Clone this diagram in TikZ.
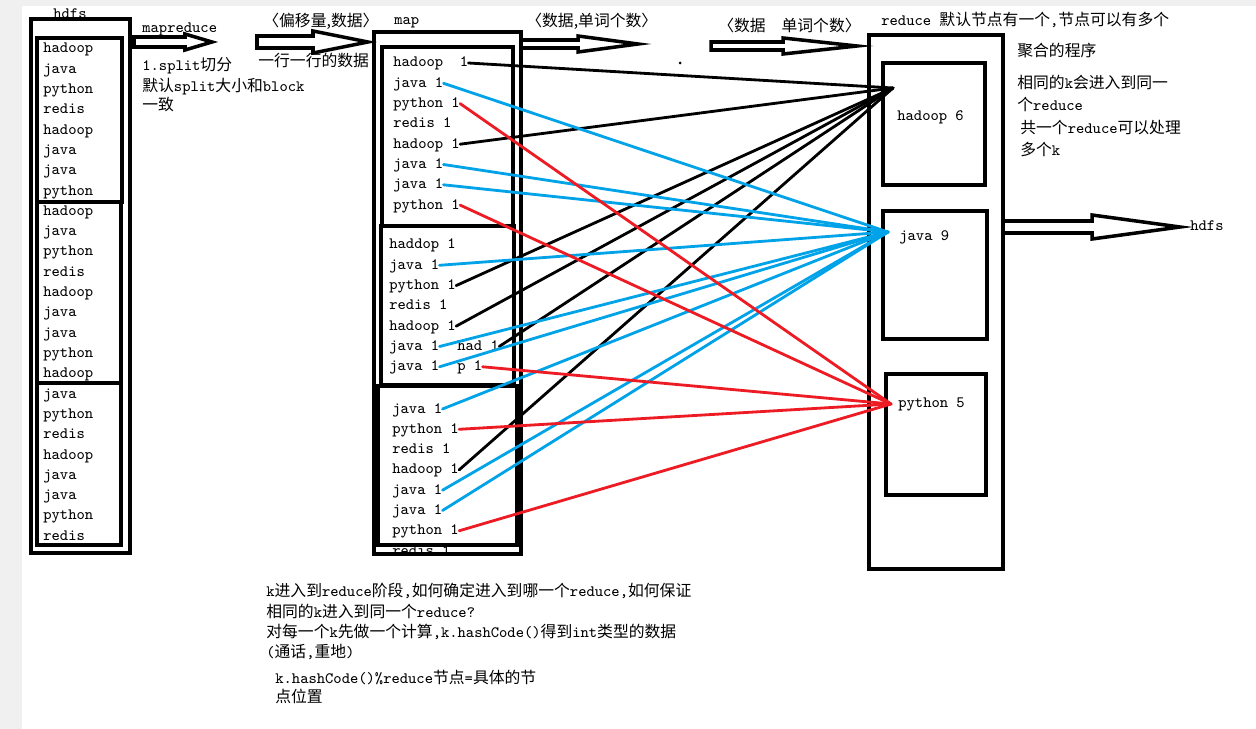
\documentclass[tikz,border=0pt]{standalone}
\usepackage{fontspec}
\newfontfamily\cjk{Noto Sans CJK SC}
\definecolor{paintblue}{RGB}{0,162,232}
\definecolor{paintred}{RGB}{237,28,36}
\definecolor{pagegray}{RGB}{240,240,240}
\newcommand{\fatarrow}[6]{\draw[fatline] (#1,#4-#5) -- (#2,#4-#5) -- (#2,#4-#6) -- (#3,#4) -- (#2,#4+#6) -- (#2,#4+#5) -- (#1,#4+#5) -- cycle;}
\begin{document}
\begin{tikzpicture}[x = 0.02cm, y = -0.02cm, font = \fontsize{9}{11}\selectfont\ttfamily,
    word/.style = {anchor = west, inner sep = 0pt, text height = 0.22cm, text depth = 0.06cm},
    box/.style = {line width = 2.2pt},
    fatline/.style = {line width = 2pt, line join = miter},
    hline/.style = {line width = 1.6pt, line cap = round},
    jline/.style = {hline, paintblue},
    pline/.style = {hline, paintred}]
        \fill[pagegray] (0, 0) rectangle (1256, 729);
        \fill[white] (22, 6) rectangle (1256, 729);
        \useasboundingbox (0, 0) rectangle (1256, 729);
        \node[word](hdfslabel) at (53, 15){hdfs};
        \foreach \w [count = \i from 0] in {hadoop, java, python, redis, hadoop, java, java, python, hadoop, java, python, redis, hadoop, java, java, python, hadoop, java, python, redis, hadoop, java, java, python, redis}
            \node[word](d\i) at (43, 49 + 20.3 * \i){\w};
        \draw[box] (31, 19) rectangle (130, 553);
        \draw[box] (37, 38) rectangle (122, 202);
        \draw[box] (37, 202) rectangle (121, 383);
        \draw[box] (37, 383) rectangle (121, 545);
        \fatarrow{134}{185}{212}{42}{5}{8}
        \node[word](mrlabel) at (142, 29){mapreduce};
        \node[word](split1) at (142, 67){1.split{\cjk 切分}};
        \node[word](split2) at (142, 88){{\cjk 默认}split{\cjk 大小和}block};
        \node[word](split3) at (142, 107){\cjk 一致};
        \fatarrow{257}{313}{368}{42}{6}{11}
        \node[word](offset) at (263, 23){\cjk 〈偏移量,数据〉};
        \node[word](lines) at (258, 63){\cjk 一行一行的数据};
        \node[word](maplabel) at (394, 21){map};
        \foreach \w [count = \i] in {hadoop\ \ 1, java 1, python 1, redis 1, hadoop 1, java 1, java 1, python 1}
            \node[word](a\i) at (393, 42.7 + 20.3 * \i){\w};
        \foreach \w [count = \i] in {haddop 1, java 1, python 1, redis 1, hadoop 1, java 1, java 1}
            \node[word](b\i) at (389, 224.7 + 20.3 * \i){\w};
        \node[word](had) at (457, 346.5){had 1};
        \node[word](pone) at (457, 366.8){p 1};
        \foreach \w [count = \i] in {java 1, python 1, redis 1, hadoop 1, java 1, java 1, python 1, redis 1}
            \node[word](c\i) at (392, 388.7 + 20.3 * \i){\w};
        \draw[box] (374, 32) rectangle (521, 554);
        \draw[box] (382, 47) rectangle (513, 226);
        \draw[box] (381, 226) rectangle (514, 385);
        \draw[box] (378, 386) rectangle (517, 545);
        \fatarrow{521}{578}{638}{44}{4}{8}
        \node[word](kv1) at (526, 23){\cjk 〈数据,单词个数〉};
        \fatarrow{711}{783}{857}{46}{4}{8}
        \node[word](kv2) at (718, 28){\cjk 〈数据\quad 单词个数〉};
        \fill (680, 63) circle(1.5);
        \node[word](redlabel) at (881, 22){reduce {\cjk 默认节点有一个},{\cjk 节点可以有多个}};
        \draw[box] (869, 35) rectangle (1003, 569);
        \draw[box] (883, 63) rectangle (985, 185);
        \draw[box] (883, 211) rectangle (987, 339);
        \draw[box] (886, 374) rectangle (986, 495);
        \node[word](rhad) at (897, 117){hadoop 6};
        \node[word](rjava) at (899, 237){java 9};
        \node[word](rpy) at (898, 403){python 5};
        \coordinate(thad) at (893, 88);
        \coordinate(tjava) at (888, 232);
        \coordinate(tpy) at (891, 404);
        \node[word](note1) at (1017, 53){\cjk 聚合的程序};
        \node[word](note2) at (1017, 85){{\cjk 相同的}k{\cjk 会进入到同一}};
        \node[word](note3) at (1017, 107){{\cjk 个}reduce};
        \node[word](note4) at (1020, 130){{\cjk 共一个}reduce{\cjk 可以处理}};
        \node[word](note5) at (1020, 152){{\cjk 多个}k};
        \fatarrow{1003}{1092}{1180}{227}{6}{12}
        \node[word](outlabel) at (1190, 227){hdfs};
        \foreach \s in {a1, a5, b3, b5, had, c4}
            \draw[hline] (\s.east) -- (thad);
        \foreach \s in {a2, a6, a7, b2, b6, b7, c1, c5, c6}
            \draw[jline] (\s.east) -- (tjava);
        \foreach \s in {a3, a8, pone, c2, c7}
            \draw[pline] (\s.east) -- (tpy);
        \node[word](q1) at (266, 592){k{\cjk 进入到}reduce{\cjk 阶段},{\cjk 如何确定进入到哪一个}reduce,{\cjk 如何保证}};
        \node[word](q2) at (266, 613){{\cjk 相同的}k{\cjk 进入到同一个}reduce?};
        \node[word](q3) at (266, 633){{\cjk 对每一个}k{\cjk 先做一个计算},k.hashCode(){\cjk 得到}int{\cjk 类型的数据}};
        \node[word](q4) at (266, 653){({\cjk 通话},{\cjk 重地})};
        \node[word](q5) at (275, 679){k.hashCode()\%reduce{\cjk 节点}={\cjk 具体的节}};
        \node[word](q6) at (275, 698){\cjk 点位置};
    \end{tikzpicture}
\end{document}
